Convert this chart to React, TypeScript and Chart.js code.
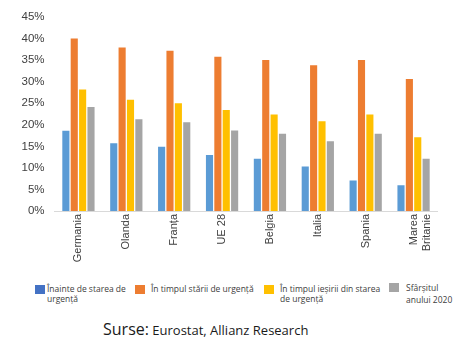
import React, { useEffect, useRef } from "react";
import { Chart, registerables } from "chart.js";

Chart.register(...registerables);

const categories: (string | string[])[] = ["Germania", "Olanda", "Franța", "UE 28", "Belgia", "Italia", "Spania", ["Marea", "Britanie"]];
const inainte = [18.6, 15.7, 14.9, 13.0, 12.1, 10.3, 7.1, 6.0];
const inTimpul = [40.0, 37.9, 37.2, 35.8, 35.0, 33.8, 35.0, 30.6];
const iesire = [28.2, 25.8, 25.0, 23.4, 22.4, 20.8, 22.4, 17.1];
const sfarsit = [24.1, 21.3, 20.6, 18.7, 17.9, 16.2, 17.9, 12.1];
const seriesNames = ["Înainte de starea de urgență", "În timpul stării de urgență", "În timpul ieșirii din starea de urgență", "Sfârșitul anului 2020"];
const yTicks = [0, 5, 10, 15, 20, 25, 30, 35, 40, 45];

const barColors = ["#5B9BD5", "#ED7D31", "#FFC000", "#A5A5A5"];
const legendColors = ["#4472C4", "#ED7D31", "#FFC000", "#A5A5A5"];

export default function App() {
  const ref = useRef<HTMLCanvasElement | null>(null);
  useEffect(() => {
    if (!ref.current) return;
    const values = [inainte, inTimpul, iesire, sfarsit];
    const chart = new Chart(ref.current, {
      type: "bar",
      data: {
        labels: categories,
        datasets: values.map((d, i) => ({
          label: seriesNames[i],
          data: d,
          backgroundColor: barColors[i],
          categoryPercentage: 0.7,
          barPercentage: 0.85,
        })),
      },
      options: {
        animation: false,
        responsive: false,
        layout: { padding: { left: 0, right: 26.5, top: 17, bottom: 0 } },
        plugins: { legend: { display: false }, tooltip: { enabled: false } },
        scales: {
          x: {
            grid: { display: false, drawTicks: false },
            border: { display: true, color: "#D9D9D9", width: 1 },
            ticks: {
              autoSkip: false,
              minRotation: 90,
              maxRotation: 90,
              padding: 3,
              color: "#404040",
              font: { family: "'Liberation Sans', Arial, sans-serif", size: 11 },
            },
            afterFit: (s: any) => { s.height = 59; },
          },
          y: {
            min: 0,
            max: 45,
            afterBuildTicks: (s: any) => { s.ticks = yTicks.map((v) => ({ value: v })); },
            grid: { display: false, drawTicks: false },
            border: { display: false },
            ticks: {
              padding: 10,
              color: "#404040",
              font: { family: "'Liberation Sans', Arial, sans-serif", size: 11.5 },
              callback: (v: any) => v + "%",
            },
            afterFit: (s: any) => { s.width = 54.5; },
          },
        },
      },
    });
    return () => chart.destroy();
  }, []);

  const legendFont: React.CSSProperties = {
    position: "absolute",
    fontFamily: "'Open Sans', sans-serif",
    fontSize: 8.5,
    lineHeight: "10px",
    color: "#404040",
    whiteSpace: "nowrap",
  };
  const sq = (x: number, y: number, c: string): React.CSSProperties => ({
    position: "absolute", left: x, top: y, width: 10, height: 9, background: c,
  });

  return (
    <div style={{ position: "fixed", left: 0, top: 0, width: 464, height: 350, background: "#fff", overflow: "hidden" }}>
      <canvas ref={ref} width={464} height={270} style={{ position: "absolute", left: 0, top: 0, width: 464, height: 270 }} />
      <div style={sq(35, 285, legendColors[0])} />
      <div style={{ ...legendFont, left: 47, top: 284 }}>Înainte de starea de<br />urgență</div>
      <div style={sq(135, 285, legendColors[1])} />
      <div style={{ ...legendFont, left: 151, top: 284 }}>În timpul stării de urgență</div>
      <div style={sq(264, 285, legendColors[2])} />
      <div style={{ ...legendFont, left: 280, top: 284 }}>În timpul ieșirii din starea<br />de urgență</div>
      <div style={sq(389, 283, legendColors[3])} />
      <div style={{ ...legendFont, left: 406, top: 282, lineHeight: "11.5px" }}>Sfârșitul<br />anului 2020</div>
      <div style={{ position: "absolute", left: 103, top: 318, fontFamily: "'Open Sans', sans-serif", color: "#1a1a1a", whiteSpace: "nowrap" }}>
        <span style={{ fontSize: 16 }}>Surse:</span>
        <span style={{ fontSize: 13 }}> Eurostat, Allianz Research</span>
      </div>
    </div>
  );
}
